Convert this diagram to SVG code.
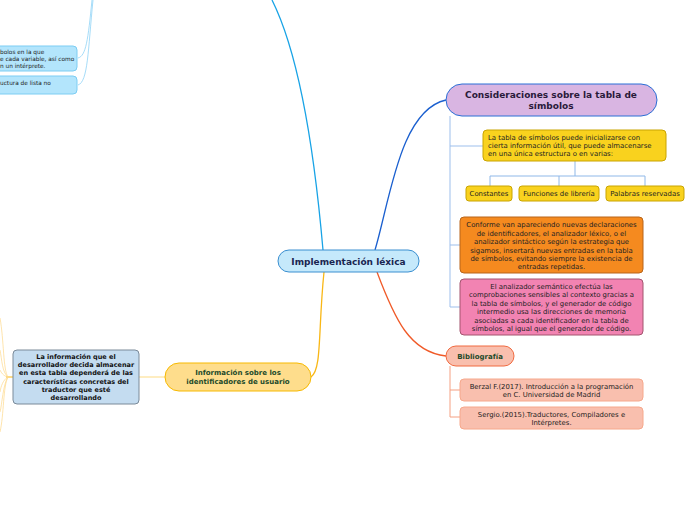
<svg xmlns="http://www.w3.org/2000/svg" width="696" height="520" viewBox="0 0 696 520">
<style>
text{font-family:"DejaVu Sans","Liberation Sans",sans-serif;fill:#222;}
.s{font-size:6.9px;}
.c{text-anchor:middle;}
.b{font-weight:bold;}
.ln{fill:none;}
</style>
<rect width="696" height="520" fill="#fff"/>
<g id="connectors">
<path class="ln" d="M323,250 C316,170 302,60 272,0" stroke="#18a3e6" stroke-width="1.3"/>
<path class="ln" d="M78,58 C86,56 88,40 92,0" stroke="#8fd3f6" stroke-width="0.8"/>
<path class="ln" d="M78,85 C88,82 88,50 93,0" stroke="#8fd3f6" stroke-width="0.8"/>
<path class="ln" d="M375,250 C390,200 400,110 446,100" stroke="#1a5fcf" stroke-width="1.3"/>
<path class="ln" d="M450,116 V307 M450,146 H483 M450,245 H460 M450,307 H460" stroke="#9dbfec" stroke-width="1"/>
<path class="ln" d="M575,161 V176 M490,186 V176 H645 V186 M559,176 V186" stroke="#8fb8e8" stroke-width="1"/>
<path class="ln" d="M377,272 C395,320 410,352 446,356" stroke="#f05a28" stroke-width="1.3"/>
<path class="ln" d="M450,366 V417 M450,390 H460 M450,417 H460" stroke="#f5a082" stroke-width="1"/>
<path class="ln" d="M324,272 C318,330 322,370 311,377" stroke="#f9b715" stroke-width="1.3"/>
<path class="ln" d="M165,377 H139" stroke="#fde3a0" stroke-width="1.3"/>
<path class="ln" d="M13,377 H6" stroke="#f9b715" stroke-width="1"/>
<g stroke="#fdd98a" stroke-width="0.7" fill="none">
<path d="M8,377 C3,370 4,340 0,318"/>
<path d="M8,377 C2,372 2,360 0,350"/>
<path d="M8,377 C3,376 1,372 0,370"/>
<path d="M8,377 C3,380 1,386 0,392"/>
<path d="M8,377 C3,384 2,405 0,412"/>
<path d="M8,377 C3,386 4,415 0,432"/>
</g>
</g>
<g id="central">
<rect x="278" y="250" width="141" height="22" rx="11" fill="#c5e9fb" stroke="#3a8fd0" stroke-width="1"/>
<text x="348.5" y="264.5" class="c b" font-size="9" style="fill:#1a2550">Implementación léxica</text>
</g>
<g id="tl1">
<rect x="-20" y="46" width="97" height="25" rx="4" fill="#b3e5fc" stroke="#7ccdf3" stroke-width="1"/>
<text style="font-size:5.8px"><tspan x="0" y="54">bolos en la que</tspan><tspan x="0" y="61">e cada variable, así como</tspan><tspan x="0" y="67.5">n un intérprete.</tspan></text>
</g>
<g id="tl2">
<rect x="-20" y="76" width="97" height="18" rx="4" fill="#b3e5fc" stroke="#7ccdf3" stroke-width="1"/>
<text x="0" y="85" style="font-size:5.8px">uctura de lista no</text>
</g>
<g id="consideraciones">
<rect x="446" y="84" width="211" height="32" rx="16" fill="#d9b5e2" stroke="#2a6fd6" stroke-width="1"/>
<text class="c b" font-size="9" style="fill:#2a1a3a"><tspan x="551" y="97.5">Consideraciones sobre la tabla de</tspan><tspan x="551" y="109">símbolos</tspan></text>
</g>
<g id="tabla">
<rect x="483" y="130" width="183" height="31" rx="4" fill="#f9d21e" stroke="#c9a400" stroke-width="1"/>
<text class="s"><tspan x="488" y="139.5">La tabla de símbolos puede inicializarse con</tspan><tspan x="488" y="147.5">cierta información útil, que puede almacenarse</tspan><tspan x="488" y="155.5">en una única estructura o en varias:</tspan></text>
</g>
<g id="constantes">
<rect x="466" y="186" width="46" height="15" rx="3" fill="#f9d21e" stroke="#c9a400" stroke-width="1"/>
<text x="489" y="196" class="s c">Constantes</text>
</g>
<g id="funciones">
<rect x="519" y="186" width="80" height="15" rx="3" fill="#f9d21e" stroke="#c9a400" stroke-width="1"/>
<text x="559" y="196" class="s c">Funciones de librería</text>
</g>
<g id="palabras">
<rect x="606" y="186" width="78" height="15" rx="3" fill="#f9d21e" stroke="#c9a400" stroke-width="1"/>
<text x="645" y="196" class="s c">Palabras reservadas</text>
</g>
<g id="conforme">
<rect x="460" y="217" width="183" height="56" rx="4" fill="#f58a1f" stroke="#b8651a" stroke-width="1"/>
<text class="s c"><tspan x="551.5" y="227">Conforme van apareciendo nuevas declaraciones</tspan><tspan x="551.5" y="235.5">de identificadores, el analizador léxico, o el</tspan><tspan x="551.5" y="244">analizador sintáctico según la estrategia que</tspan><tspan x="551.5" y="252.5">sigamos, insertará nuevas entradas en la tabla</tspan><tspan x="551.5" y="261">de símbolos, evitando siempre la existencia de</tspan><tspan x="551.5" y="269">entradas repetidas.</tspan></text>
</g>
<g id="semantico">
<rect x="460" y="279" width="183" height="56" rx="4" fill="#f283b2" stroke="#a3546f" stroke-width="1"/>
<text class="s c"><tspan x="551.5" y="288.5">El analizador semántico efectúa las</tspan><tspan x="551.5" y="297">comprobaciones sensibles al contexto gracias a</tspan><tspan x="551.5" y="305.5">la tabla de símbolos, y el generador de código</tspan><tspan x="551.5" y="314">intermedio usa las direcciones de memoria</tspan><tspan x="551.5" y="322.5">asociadas a cada identificador en la tabla de</tspan><tspan x="551.5" y="331">símbolos, al igual que el generador de código.</tspan></text>
</g>
<g id="bibliografia">
<rect x="446" y="346" width="68" height="20" rx="10" fill="#f9bfae" stroke="#f06a40" stroke-width="1"/>
<text x="480" y="359" class="c b" font-size="7" style="fill:#1d4a2a">Bibliografía</text>
</g>
<g id="berzal">
<rect x="460" y="379" width="183" height="22" rx="4" fill="#f9bfae" stroke="#f6a88c" stroke-width="1"/>
<text class="s c"><tspan x="551.5" y="388.5">Berzal F.(2017). Introducción a la programación</tspan><tspan x="551.5" y="397">en C. Universidad de Madrid</tspan></text>
</g>
<g id="sergio">
<rect x="460" y="407" width="183" height="22" rx="4" fill="#f9bfae" stroke="#f6a88c" stroke-width="1"/>
<text class="s c"><tspan x="551.5" y="416.5">Sergio.(2015).Traductores, Compiladores e</tspan><tspan x="551.5" y="425">Intérpretes.</tspan></text>
</g>
<g id="informacion">
<rect x="165" y="363" width="146" height="28" rx="14" fill="#fedd8c" stroke="#f7b900" stroke-width="1"/>
<text class="c b" font-size="7" style="fill:#1d4a2a"><tspan x="238" y="374.5">Información sobre los</tspan><tspan x="238" y="384">identificadores de usuario</tspan></text>
</g>
<g id="desarrollador">
<rect x="13" y="350" width="126" height="54" rx="4" fill="#c4dcf0" stroke="#7a8a99" stroke-width="1"/>
<text class="c b" font-size="6.5" style="fill:#111"><tspan x="76" y="358.5">La información que el</tspan><tspan x="76" y="367">desarrollador decida almacenar</tspan><tspan x="76" y="375">en esta tabla dependerá de las</tspan><tspan x="76" y="383.5">características concretas del</tspan><tspan x="76" y="391.5">traductor que esté</tspan><tspan x="76" y="399.5">desarrollando</tspan></text>
</g>
</svg>
